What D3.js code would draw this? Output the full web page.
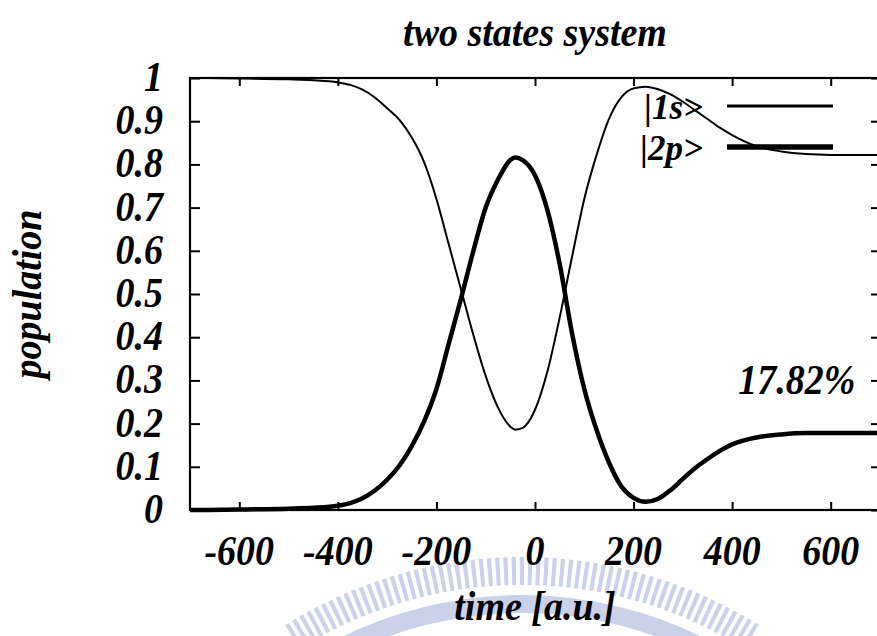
<!DOCTYPE html>
<html>
<head>
<meta charset="utf-8">
<script src="https://cdn.jsdelivr.net/npm/d3@7"></script>
<style>
  html, body { margin: 0; padding: 0; background: #fff; }
  svg { display: block; }
  text { font-family: "Liberation Serif", "Times New Roman", serif; font-weight: bold; font-style: italic; fill: #000; }
</style>
</head>
<body>
<svg id="chart" width="877" height="636"></svg>
<script>
// Time grid [a.u.] shared by both populations
const TIME = [-700,-600,-500,-450,-400,-375,-350,-325,-300,-275,-250,-225,-200,-175,-150,-125,-100,-75,-50,-40,
              -25,0,25,50,75,100,125,150,175,200,225,250,275,300,325,350,375,400,450,500,550,600,650,700];
// Population of the ground state |1s>
const POP_1S = [1.000,0.999,0.997,0.995,0.990,0.984,0.973,0.955,0.930,0.903,0.862,0.805,0.720,0.615,0.510,0.405,0.310,0.237,0.193,0.186,
                0.190,0.232,0.320,0.445,0.585,0.720,0.822,0.905,0.955,0.976,0.980,0.974,0.962,0.945,0.925,0.905,0.885,0.868,0.842,0.830,0.824,0.822,0.8218,0.8218];
// Population of the excited state |2p>
const POP_2P = [0.000,0.001,0.003,0.005,0.010,0.016,0.027,0.045,0.070,0.103,0.148,0.205,0.280,0.385,0.490,0.600,0.700,0.765,0.810,0.816,
                0.810,0.775,0.695,0.570,0.410,0.280,0.185,0.110,0.055,0.028,0.019,0.026,0.046,0.072,0.097,0.118,0.137,0.152,0.168,0.175,0.178,0.178,0.1782,0.1782];
const X_TICKS = [-600,-400,-200,0,200,400,600];
const Y_TICKS = [0,0.1,0.2,0.3,0.4,0.5,0.6,0.7,0.8,0.9,1];
const SERIES_NAMES = ["|1s>", "|2p>"];
const FINAL_LABEL = "17.82%";
const TITLE = "two states system";
const X_TITLE = "time [a.u.]";
const Y_TITLE = "population";

const svg = d3.select("#chart");
const W = 877, H = 636;
const plot = { left: 190, right: 880, top: 78, bottom: 510 };
const FS = 38;        // font size
const STRETCH = 1.1;  // vertical stretch of the lettering

const x = d3.scaleLinear().domain([-700, 700]).range([plot.left, plot.right]);
const y = d3.scaleLinear().domain([0, 1]).range([plot.bottom, plot.top]);

svg.append("rect").attr("width", W).attr("height", H).attr("fill", "#fff");

// faint emblem behind the lower axis area
const wm = svg.append("g").attr("fill", "#bfc6e4").attr("opacity", 0.8);
const wc = { x: 522, y: 1003 };
const barArc = d3.arc();
for (let a = -0.56; a <= 0.56; a += 0.0185) {
  wm.append("path")
    .attr("transform", `translate(${wc.x},${wc.y})`)
    .attr("d", barArc({ innerRadius: 418, outerRadius: 446, startAngle: a, endAngle: a + 0.0095 }));
}
wm.append("path")
  .attr("transform", `translate(${wc.x},${wc.y})`)
  .attr("d", barArc({ innerRadius: 390, outerRadius: 408, startAngle: -0.5, endAngle: 0.5 }));

// curves, clipped to the frame
svg.append("clipPath").attr("id", "clip")
  .append("rect").attr("x", plot.left).attr("y", plot.top - 3)
  .attr("width", plot.right - plot.left).attr("height", plot.bottom - plot.top + 6);

const line = (vals) => d3.line()
  .x((d, i) => x(TIME[i]))
  .y(d => y(d))
  .curve(d3.curveMonotoneX)(vals);

const curves = svg.append("g").attr("clip-path", "url(#clip)");
curves.append("path").attr("d", line(POP_1S))
  .attr("fill", "none").attr("stroke", "#000").attr("stroke-width", 2);
curves.append("path").attr("d", line(POP_2P))
  .attr("fill", "none").attr("stroke", "#000").attr("stroke-width", 4.5);

// text helper: places a vertically stretched label with its baseline at (tx, ty)
function label(parent, tx, ty, str, anchor, rotate, size, stretch) {
  const rot = rotate ? ` rotate(${rotate})` : "";
  return parent.append("text")
    .attr("transform", `translate(${tx},${ty})${rot} scale(1,${stretch || STRETCH})`)
    .attr("text-anchor", anchor).attr("font-size", size || FS).text(str);
}

// axes with inward ticks (labels added separately)
const yAxis = svg.append("g").attr("transform", `translate(${plot.left},0)`)
  .call(d3.axisLeft(y).tickValues(Y_TICKS).tickSize(-10).tickFormat(""));
const yAxisR = svg.append("g").attr("transform", `translate(${plot.right},0)`)
  .call(d3.axisRight(y).tickValues(Y_TICKS).tickSize(-9).tickFormat(""));
const xAxis = svg.append("g").attr("transform", `translate(0,${plot.bottom})`)
  .call(d3.axisBottom(x).tickValues(X_TICKS).tickSize(-8).tickFormat(""));
const xAxisT = svg.append("g").attr("transform", `translate(0,${plot.top})`)
  .call(d3.axisTop(x).tickValues(X_TICKS).tickSize(-8).tickFormat(""));

[yAxis, yAxisR, xAxis, xAxisT].forEach(g => {
  g.select(".domain").remove();
  g.selectAll(".tick line").attr("stroke", "#000").attr("stroke-width", 2);
  g.selectAll(".tick text").remove();
});

const fmtY = d => (d === 0 ? "0" : d === 1 ? "1" : d.toFixed(1));
const tickLabels = svg.append("g");
Y_TICKS.forEach(v => label(tickLabels, plot.left - 27, y(v) + 13, fmtY(v), "end"));
X_TICKS.forEach(v => label(tickLabels, x(v), plot.bottom + 55, String(v), "middle"));

// frame
svg.append("rect")
  .attr("x", plot.left).attr("y", plot.top)
  .attr("width", plot.right - plot.left).attr("height", plot.bottom - plot.top)
  .attr("fill", "none").attr("stroke", "#000").attr("stroke-width", 2.2);

// key
const key = svg.append("g");
const keyRows = [
  { name: SERIES_NAMES[0], ly: 106, w: 3.2 },
  { name: SERIES_NAMES[1], ly: 147, w: 5.5 }
];
keyRows.forEach(r => {
  label(key, 703, r.ly + 13, r.name, "end", null, 35, 1.05);
  key.append("line").attr("x1", 727).attr("x2", 833).attr("y1", r.ly).attr("y2", r.ly)
    .attr("stroke", "#000").attr("stroke-width", r.w);
});

// final excitation label
label(svg, x(650), y(0.268), FINAL_LABEL, "end");

// titles
label(svg, (plot.left + plot.right) / 2, 46, TITLE, "middle");
label(svg, (plot.left + plot.right) / 2, 620, X_TITLE, "middle");
label(svg, 41, (plot.top + plot.bottom) / 2, Y_TITLE, "middle", -90);
</script>
</body>
</html>
